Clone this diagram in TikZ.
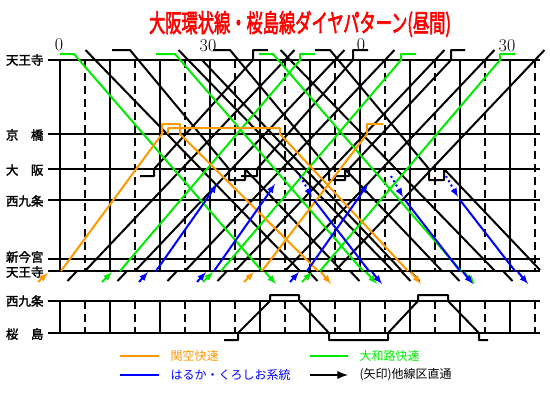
\documentclass[tikz,border=0pt]{standalone}
\usepackage{fontspec}
\newfontfamily\jp[FakeBold=2]{Noto Sans CJK JP}
\newfontfamily\jpheavy[FakeBold=3]{Noto Sans CJK JP}
\newfontfamily\jpthin{Noto Sans CJK JP}
\usepackage{graphicx}
\usepackage{tikz}
\usetikzlibrary{arrows,positioning}
\definecolor{myred}{RGB}{255,0,0}
\definecolor{myorange}{RGB}{255,153,0}
\definecolor{mygreen}{RGB}{0,235,0}
\definecolor{myblue}{RGB}{0,0,255}
\tikzstyle{stationline}=[line width=2.3pt]
\tikzstyle{train}=[line width=2pt,line join=round]

\begin{document}
\begin{tikzpicture}[
  x=1pt,y=-1pt,
  gridthick/.style={line width=2.2pt},
  gridthin/.style={line width=1.1pt},
  griddash/.style={line width=1.1pt,dash pattern=on 8pt off 5pt},
  local/.style={train,black},
  kanku/.style={train,myorange},
  yamato/.style={train,mygreen},
  haruka/.style={train,myblue},
  thru/.style={-latex},
  stn/.style={anchor=east,font={\jp\fontsize{12.5}{13}\selectfont}},
  minute/.style={font={\fontsize{18}{18}\selectfont}},
  legend/.style={anchor=west,font={\jpthin\fontsize{12}{13}\selectfont}}
]
\useasboundingbox (0,0) rectangle (550,400);

% title
\node[text=myred,font={\jpheavy\fontsize{25}{26}\selectfont}] (title) at (300,24)
  {\scalebox{0.65}[1]{大阪環状線・桜島線ダイヤパターン(昼間)}};

% minutes
\node[minute] (m0) at (59,45) {0};
\node[minute] (m30) at (208,46) {30};
\node[minute] (m60) at (361,45) {0};
\node[minute] (m90) at (507,46) {30};

% stations
\node[stn] (tennojiA) at (47,60) {天王寺};
\node[stn] (kyobashi) at (47,135) {京　橋};
\node[stn] (osaka) at (47,170) {大　阪};
\node[stn] (nishikujoA) at (47,201) {西九条};
\node[stn] (shinimamiya) at (47,257) {新今宮};
\node[stn] (tennojiB) at (47,272) {天王寺};
\node[stn] (nishikujoB) at (47,301) {西九条};
\node[stn] (sakurajima) at (47,334) {桜　島};

% grid
\foreach \y in {60,134,169,200,259,271,301,333}
  \draw[stationline] (48,\y) -- (540,\y);
\foreach \x in {60,210,360,510}{
  \draw[gridthick] (\x,60) -- (\x,271);
  \draw[gridthick] (\x,301) -- (\x,333);
}
\foreach \x in {110,160,260,310,410,460}{
  \draw[gridthin] (\x,60) -- (\x,271);
  \draw[gridthin] (\x,301) -- (\x,333);
}
\foreach \x in {85,135,...,535}{
  \draw[griddash] (\x,60) -- (\x,271);
  \draw[griddash] (\x,301) -- (\x,333);
}

% loop locals, Tennoji -> Kyobashi -> Osaka
\foreach \x in {95,188,290}{
  \draw[local] ({\x-9.5},50) -- ({\x+205},271);
  \draw[local] ({\x+213},271) -- ({\x+222.5},281);
}
\draw[local] (202,60) -- (402,271);
\draw[local] (410,271) -- (419.5,281);
% starting at Tennoji, stop over at Osaka
\draw[local] (112,50) -- (130,50) -- (229,169) -- (229,180) -- (245,180) -- (245,169) -- (342,271);
\draw[local] (213,50) -- (230,50) -- (329,169) -- (329,180) -- (345,180) -- (345,169) -- (442,271);
\draw[local] (315,50) -- (330,50) -- (429,169) -- (429,180) -- (444,180) -- (444,169) -- (540,270);
\foreach \x in {342,442}
  \draw[local] ({\x+8},271) -- ({\x+17.5},281);

% loop locals, Tennoji -> Shin-Imamiya -> Nishikujo
\foreach \x in {85,135,185,235,285,335}
  \draw[local] (\x,271) -- ({\x+209.5},50);
\foreach \x in {85,135,185,235}
  \draw[local] ({\x-17.5},281) -- ({\x-8},271);
% from Osaka, ending at Tennoji
\draw[local] (140,176) -- (154,176) -- (154,169) -- (253,60) -- (253,50) -- (268,50);
\draw[local] (241,176) -- (257,176) -- (257,169) -- (353,60) -- (353,50) -- (368,50);
\draw[local] (335,176) -- (349,176) -- (349,169) -- (451,60) -- (451,50) -- (465,50);

% Yamatoji rapid
\draw[yamato] (60,54) -- (74,54) -- (262,271);
\draw[yamato] (156,54) -- (175,54) -- (363,271);
\draw[yamato] (259,54) -- (273,54) -- (461,271);
\foreach \x in {265,366,464}
  \draw[yamato,thru] (\x,272) -- ({\x+11},284);
\foreach \x in {120,221,320}{
  \draw[yamato,thru] ({\x-18},282) -- ({\x-8},272);
  \draw[yamato] (\x,271) -- ({\x+180},60) -- ({\x+180},54) -- ({\x+195},54);
}

% Kansai airport rapid
\draw[kanku,thru] (38,282) -- (48,273);
\draw[kanku] (61,271) -- (162,134) -- (162,124) -- (180,124) -- (180,134) -- (318,271);
\draw[kanku,thru] (321,272) -- (331,284);
\draw[kanku] (168,134) -- (168,128) -- (280,128) -- (280,134) -- (408,271);
\draw[kanku,thru] (411,272) -- (421,284);
\draw[kanku,thru] (244,282) -- (254,272);
\draw[kanku] (262,271) -- (367,134) -- (367,124) -- (383,124);

% Haruka / Kuroshio
\foreach \x in {156,214,307}{
  \draw[haruka,thru] ({\x-17},282) -- ({\x-8},272);
  \draw[haruka,thru] (\x,271) -- ({\x+50},200) -- ({\x+61},184);
}
\foreach \x in {314,405,460}{
  \draw[haruka,thru,dash pattern=on 2pt off 3pt] ({\x-14},176) -- ({\x-2},197);
  \draw[haruka] (\x,200) -- ({\x+55},271);
  \draw[haruka,thru] ({\x+58},272) -- ({\x+68},284);
}

% Sakurajima line
\draw[local] (224,340) -- (238,340) -- (238,333) -- (270,301) -- (270,295)
  -- (299,295) -- (299,301) -- (329,333) -- (329,340) -- (388,340)
  -- (388,333) -- (418,301) -- (418,295) -- (448,295) -- (448,301)
  -- (479,333) -- (479,340) -- (488,340);

% legend
\draw[kanku,line width=2.6pt] (120,356) -- (159,356);
\node[legend,text=myorange] (lgkanku) at (167,356) {関空快速};
\draw[yamato,line width=2.6pt] (310,356) -- (348,356);
\node[legend,text=mygreen] (lgyamato) at (356,356) {大和路快速};
\draw[haruka,line width=2.6pt] (120,375) -- (159,375);
\node[legend,text=myblue] (lgharuka) at (167,375) {はるか・くろしお系統};
\draw[local,thru,line width=2.6pt] (310,375) -- (348,375);
\node[legend] (lgthru) at (356,375) {(矢印)他線区直通};

\end{tikzpicture}
\end{document}
